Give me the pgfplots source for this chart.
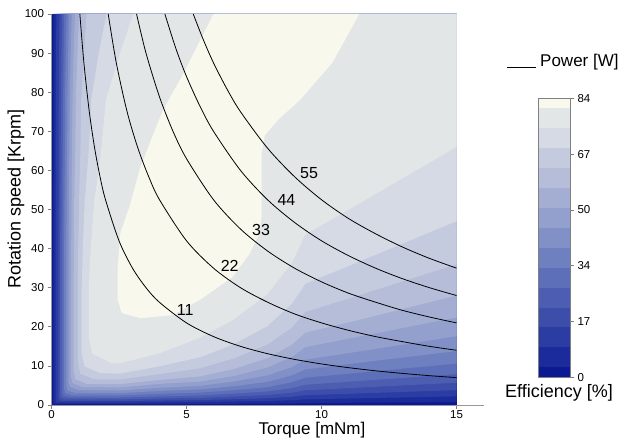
\documentclass[border=0pt]{standalone}
\usepackage{fontspec}
\setmainfont{Liberation Sans}
\usepackage{pgfplots}
\pgfplotsset{compat=1.18}
\definecolor{c0}{HTML}{0B1A92}
\definecolor{c3}{HTML}{1B2B9B}
\definecolor{c9}{HTML}{2B3CA3}
\definecolor{c15}{HTML}{3C4DAA}
\definecolor{c21}{HTML}{4D5EB2}
\definecolor{c27}{HTML}{5E6FB9}
\definecolor{c33}{HTML}{6F80C0}
\definecolor{c39}{HTML}{8190C7}
\definecolor{c45}{HTML}{939FCD}
\definecolor{c51}{HTML}{A4AED3}
\definecolor{c57}{HTML}{B5BDD9}
\definecolor{c63}{HTML}{C5CBDE}
\definecolor{c69}{HTML}{D5DAE4}
\definecolor{c75}{HTML}{E3E6E7}
\definecolor{c81}{HTML}{F8F8EC}
\begin{document}
\begin{tikzpicture}
\useasboundingbox (-51.5pt,-34pt) rectangle (567.5pt,405pt);
\begin{axis}[
  at={(0pt,0pt)}, anchor=south west,
  scale only axis, width=432pt, height=391pt,
  xmin=0, xmax=16, ymin=0, ymax=100,
  axis x line*=bottom, axis y line*=left,
  xtick={0,5,10,15}, ytick={0,10,...,100},
  xtick pos=bottom, ytick pos=left,
  tick align=outside, major tick length=4pt,
  tick style={gray, line width=0.6pt},
  axis line style={gray!80, line width=0.8pt},
  tick label style={font=\fontsize{11.5}{13}\selectfont},
  xticklabel style={inner sep=1pt},
  /pgf/number format/assume math mode=true,
  axis on top,
]
% background (0-3)
\addplot[fill=c0, draw=none] coordinates {(0,0) (15,0) (15,100) (0,100)};
% >=3
\addplot[fill=c3, draw=none] coordinates {(0.08,100) (15,100) (15,0.75) (11.4,0.59) (9.4,0.5) (8.9,0.41) (8,0.36) (6.74,0.31) (5.5,0.26) (4,0.24) (2.5,0.21) (0.11,0.21) (0.08,0.26) (0.07,0.35) (0.07,30)};
% >=9
\addplot[fill=c9, draw=none] coordinates {(0.18,100) (15,100) (15,2.2) (11.4,1.72) (9.4,1.45) (8.9,1.21) (8,1.03) (6.74,0.88) (5.5,0.75) (4,0.68) (2.5,0.59) (0.24,0.60) (0.16,0.73) (0.15,0.97) (0.15,30) (0.15,52) (0.16,78) (0.17,90)};
% >=15
\addplot[fill=c15, draw=none] coordinates {(0.30,100) (15,100) (15,3.8) (11.4,2.96) (9.4,2.51) (8.9,2.09) (8,1.75) (6.74,1.48) (5.5,1.25) (4,1.14) (2.5,0.99) (0.40,1.01) (0.27,1.23) (0.25,1.63) (0.25,30) (0.25,40) (0.26,52) (0.26,65) (0.27,78) (0.28,90)};
% >=21
\addplot[fill=c21, draw=none] coordinates {(0.39,100) (15,100) (15,5.7) (11.4,4.45) (9.4,3.76) (8.9,3.14) (8,2.57) (6.74,2.17) (5.5,1.82) (4,1.65) (2.5,1.43) (0.51,1.46) (0.35,1.77) (0.32,2.36) (0.32,30) (0.32,40) (0.33,52) (0.34,65) (0.35,78) (0.37,90)};
% >=27
\addplot[fill=c27, draw=none] coordinates {(0.47,100) (15,100) (15,7.9) (11.4,6.16) (9.4,5.2) (8.9,4.35) (8,3.48) (6.74,2.92) (5.5,2.45) (4,2.2) (2.5,1.9) (0.64,1.94) (0.44,2.35) (0.40,3.13) (0.40,30) (0.40,40) (0.41,52) (0.42,65) (0.43,78) (0.45,90)};
% >=33
\addplot[fill=c33, draw=none] coordinates {(0.56,100) (15,100) (15,10.6) (11.4,8.27) (9.4,7.0) (8.9,5.83) (8,4.56) (6.74,3.8) (5.5,3.18) (4,2.86) (2.5,2.44) (0.75,2.49) (0.51,3.03) (0.47,4.0) (0.47,30) (0.47,40) (0.48,52) (0.50,65) (0.50,78) (0.53,90)};
% >=39
\addplot[fill=c39, draw=none] coordinates {(0.65,100) (15,100) (15,13.8) (11.4,10.8) (9.4,9.1) (8.9,7.6) (8,5.9) (6.74,4.8) (5.5,4.0) (4,3.6) (2.5,3.0) (0.88,3.1) (0.60,3.7) (0.55,5.0) (0.55,30) (0.55,40) (0.56,52) (0.58,65) (0.59,78) (0.62,90)};
% >=45
\addplot[fill=c45, draw=none] coordinates {(0.75,100) (15,100) (15,17.6) (11.4,13.7) (9.4,11.6) (8.9,9.7) (8,7.6) (6.74,6.0) (5.5,4.9) (4,4.4) (2.5,3.7) (1.01,3.8) (0.69,4.6) (0.63,6.1) (0.63,30) (0.64,40) (0.64,52) (0.66,65) (0.68,78) (0.71,90)};
% >=51
\addplot[fill=c51, draw=none] coordinates {(0.87,100) (15,100) (15,22.4) (11.4,17.5) (9.4,14.8) (8.9,12.3) (8,9.6) (6.74,7.4) (5.5,6.0) (4,5.4) (2.5,4.5) (1.15,4.6) (0.78,5.6) (0.72,7.4) (0.72,30) (0.73,40) (0.74,52) (0.76,65) (0.78,78) (0.82,90)};
% >=57
\addplot[fill=c57, draw=none] coordinates {(1.02,100) (15,100) (15,28) (11.4,21.8) (9.4,18.5) (8.9,15.4) (8,12.0) (6.74,9.2) (5.5,7.3) (4,6.4) (2.5,5.3) (1.31,5.4) (0.89,6.6) (0.82,8.8) (0.82,30) (0.83,40) (0.84,52) (0.88,65) (0.90,78) (0.96,90)};
% >=63
\addplot[fill=c63, draw=none] coordinates {(1.30,100) (15,100) (15,36) (11.4,28.1) (9.4,23.8) (8.9,19.8) (8,15.5) (6.74,11.9) (5.5,9.4) (4,7.9) (2.5,6.5) (1.57,6.6) (1.07,8.0) (0.98,10.7) (0.98,30) (0.99,40) (1.02,52) (1.07,65) (1.10,78) (1.20,90)};
% >=69
\addplot[fill=c69, draw=none] coordinates {(2.04,100) (15,100) (15,47) (11.4,36.7) (9.4,31.0) (8.9,25.9) (8,20.2) (6.74,15.5) (5.5,12.2) (4,9.9) (2.5,8.0) (1.79,8.2) (1.22,9.9) (1.12,13.2) (1.12,30) (1.16,40) (1.23,52) (1.38,65) (1.47,78) (1.75,90)};
% >=75
\addplot[fill=c75, draw=none] coordinates {(3.03,100) (15,100) (15,66) (11.4,51.5) (9.4,43.6) (8.9,36.3) (8,28.4) (6.74,21.8) (5.5,17.2) (4,13.2) (2.5,10.6) (2.21,10.8) (1.5,13.1) (1.38,17.5) (1.38,30) (1.45,40) (1.58,52) (1.84,65) (2.01,78) (2.54,90)};
% >=81
\addplot[fill=c81, draw=none] coordinates {(6.0,100) (4.9,85) (4.1,75) (3.3,61) (2.9,51) (2.55,44) (2.45,35) (2.45,27) (2.6,23.5) (3.3,22.2) (4.5,23) (5.5,26.9) (6.7,32.7) (7.35,38.8) (7.7,44) (7.78,48.2) (7.78,64) (7.9,69) (8.4,73) (9.2,78) (10.4,87.5) (11.4,100)};
% power curves
\addplot[black, line width=0.8pt, smooth] coordinates {(1.05,100) (1.2,87.5) (1.4,75) (1.6,65.6) (1.8,58.3) (2,52.5) (2.5,42) (3,35) (3.5,30) (4,26.25) (5,21) (6,17.5) (7,15) (8,13.13) (9,11.67) (10,10.5) (11,9.55) (12,8.75) (13,8.08) (14,7.5) (15,7.0)};
\addplot[black, line width=0.8pt, smooth] coordinates {(2.1,100) (2.4,87.5) (2.8,75) (3.2,65.7) (3.6,58.4) (4,52.5) (5,42) (6,35) (7,30) (8,26.3) (9,23.3) (10,21) (11,19.1) (12,17.5) (13,16.2) (14,15) (15,14)};
\addplot[black, line width=0.8pt, smooth] coordinates {(3.15,100) (3.5,90) (4,78.8) (4.5,70) (5,63) (6,52.5) (7,45) (8,39.4) (9,35) (10,31.5) (11,28.6) (12,26.3) (13,24.2) (14,22.5) (15,21)};
\addplot[black, line width=0.8pt, smooth] coordinates {(4.2,100) (4.6,91.3) (5,84) (5.5,76.4) (6,70) (7,60) (8,52.5) (9,46.7) (10,42) (11,38.2) (12,35) (13,32.3) (14,30) (15,28)};
\addplot[black, line width=0.8pt, smooth] coordinates {(5.25,100) (5.6,93.8) (6,87.5) (6.5,80.8) (7,75) (8,65.7) (9,58.4) (10,52.5) (11,47.7) (12,43.8) (13,40.4) (14,37.5) (15,35)};
\node[font=\fontsize{16}{18}\selectfont] at (axis cs:4.95,24.3) {11};
\node[font=\fontsize{16}{18}\selectfont] at (axis cs:6.6,35.5) {22};
\node[font=\fontsize{16}{18}\selectfont] at (axis cs:7.76,44.8) {33};
\node[font=\fontsize{16}{18}\selectfont] at (axis cs:8.7,52.4) {44};
\node[font=\fontsize{16}{18}\selectfont] at (axis cs:9.54,59.3) {55};
\end{axis}
\begin{axis}[
  at={(486.8pt,27.7pt)}, anchor=south west,
  scale only axis, width=31.7pt, height=279pt,
  xmin=0, xmax=1, ymin=0, ymax=84,
  xtick=\empty,
  ytick={0,16.8,33.6,50.4,67.2,84},
  yticklabels={0,17,34,50,67,84},
  yticklabel pos=right, ytick pos=right,
  tick align=outside, major tick length=4pt,
  tick style={gray, line width=0.6pt},
  axis line style={gray, line width=0.6pt},
  tick label style={font=\fontsize{11.5}{13}\selectfont},
  axis on top,
]
\addplot[fill=c0, draw=none] coordinates {(0,0) (1,0) (1,3) (0,3)};
\addplot[fill=c3, draw=none] coordinates {(0,3) (1,3) (1,9) (0,9)};
\addplot[fill=c9, draw=none] coordinates {(0,9) (1,9) (1,15) (0,15)};
\addplot[fill=c15, draw=none] coordinates {(0,15) (1,15) (1,21) (0,21)};
\addplot[fill=c21, draw=none] coordinates {(0,21) (1,21) (1,27) (0,27)};
\addplot[fill=c27, draw=none] coordinates {(0,27) (1,27) (1,33) (0,33)};
\addplot[fill=c33, draw=none] coordinates {(0,33) (1,33) (1,39) (0,39)};
\addplot[fill=c39, draw=none] coordinates {(0,39) (1,39) (1,45) (0,45)};
\addplot[fill=c45, draw=none] coordinates {(0,45) (1,45) (1,51) (0,51)};
\addplot[fill=c51, draw=none] coordinates {(0,51) (1,51) (1,57) (0,57)};
\addplot[fill=c57, draw=none] coordinates {(0,57) (1,57) (1,63) (0,63)};
\addplot[fill=c63, draw=none] coordinates {(0,63) (1,63) (1,69) (0,69)};
\addplot[fill=c69, draw=none] coordinates {(0,69) (1,69) (1,75) (0,75)};
\addplot[fill=c75, draw=none] coordinates {(0,75) (1,75) (1,81) (0,81)};
\addplot[fill=c81, draw=none] coordinates {(0,81) (1,81) (1,84) (0,84)};
\end{axis}
\node[rotate=90, font=\fontsize{18}{21}\selectfont] at (-35.5pt,206pt) {Rotation speed [Krpm]};
\node[anchor=base, inner sep=0pt, font=\fontsize{17}{19}\selectfont] at (260.5pt,-29.5pt) {Torque [mNm]};
\draw[black, line width=0.9pt] (455.5pt,338pt) -- (484.5pt,338pt);
\node[anchor=base west, inner sep=0pt, font=\fontsize{17}{19}\selectfont] at (488.5pt,338pt) {Power [W]};
\node[anchor=base west, inner sep=0pt, font=\fontsize{18}{20}\selectfont] at (453.5pt,7pt) {Efficiency [\%]};
\end{tikzpicture}
\end{document}
